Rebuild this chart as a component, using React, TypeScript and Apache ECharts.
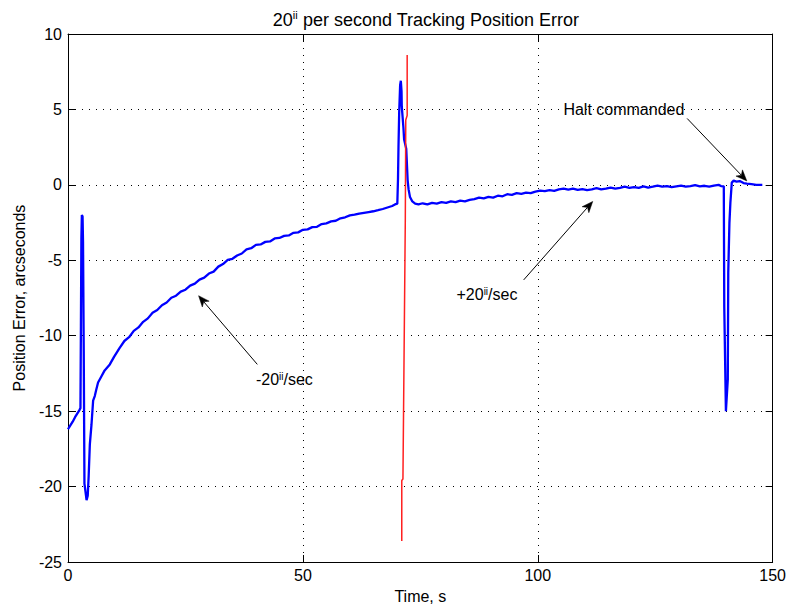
import React, { useEffect, useRef } from "react";
import * as echarts from "echarts";

const FONT = "'Liberation Sans', Arial, Helvetica, sans-serif";

// Blue trace: tracking position error (time s, arcseconds)
const blueTime = [
  0, 0.5, 1.0, 1.5, 2.0, 2.4, 2.65, 2.75, 2.85, 2.95, 3.1, 3.2, 3.35, 3.5, 3.75, 3.95, 4.2, 4.4, 4.65, 5.0,
  5.35, 5.7, 6.0, 6.4, 7.1, 7.8, 8.9, 9.8, 10.6,
  11, 12, 13, 14, 15, 16, 17, 18, 19, 20, 21, 22, 23, 24, 25, 26, 27, 28, 29, 30,
  31, 32, 33, 34, 35, 36, 37, 38, 39, 40, 41, 42, 43, 44, 45, 46, 47, 48, 49, 50,
  51, 52, 53, 54, 55, 56, 57, 58, 59, 60, 61, 62, 63, 64, 65, 66, 67, 68, 69, 69.6, 70.1,
  70.25, 70.35, 70.5, 70.7, 70.85, 71.0, 71.05, 71.4, 71.55, 72.0, 72.3, 72.5, 72.8, 73.3, 73.9,
  74.6, 75.5, 76.5, 77.5, 78.5, 79.5, 80.5, 81.5, 82.5, 83.5, 84.5, 85.5, 86.5, 87.5, 88.5, 89.5,
  90.5, 91.5, 92.5, 93.5, 94.5, 95.5, 96.5, 97.5, 98.5, 99.5, 100.5, 101.5, 102.5, 103.5, 104.5,
  105.5, 106.5, 107.5, 108.5, 109.5, 110.5, 111.5, 112.5, 113.5, 114.5, 115.5, 116.5, 117.5, 118.5,
  119.5, 120.5, 121.5, 122.5, 123.5, 124.5, 125.5, 126.5, 127.5, 128.5, 129.5, 130.5, 131.5, 132.5,
  133.5, 134.5, 135.5, 136.5, 137.5, 138.5, 139.0, 139.6,
  139.7, 139.85, 140.05, 140.2, 140.45, 140.55, 140.8, 141.0, 141.3, 141.7, 142.3, 143.0, 143.8, 144.5,
  145.5, 146.5, 147.8,
];
const blueError = [
  -16.2, -15.95, -15.7, -15.4, -15.15, -14.95, -14.8, -9.3, -3.5, -2.0, -2.1, -3.8, -11.0, -19.8, -20.4, -20.9, -20.6, -19.3, -17.2, -15.9,
  -14.3, -14.0, -13.6, -13.1, -12.7, -12.3, -11.9, -11.4, -11.0,
  -10.8, -10.35, -10.1, -9.68, -9.45, -9.08, -8.85, -8.48, -8.3, -7.98, -7.8, -7.48, -7.35, -7.08, -6.95, -6.68, -6.55, -6.28, -6.15, -5.88,
  -5.75, -5.42, -5.25, -4.98, -4.9, -4.68, -4.55, -4.28, -4.2, -3.98, -3.95, -3.78, -3.75, -3.55, -3.52, -3.38, -3.35, -3.18, -3.15, -2.98,
  -2.95, -2.8, -2.78, -2.6, -2.55, -2.42, -2.38, -2.22, -2.15, -2.02, -1.98, -1.9, -1.85, -1.8, -1.75, -1.68, -1.6, -1.5, -1.4, -1.3, -1.25,
  0.4, 2.5, 4.8, 6.6, 6.9, 6.2, 5.2, 3.8, 3.0, 2.4, 0.3, -0.3, -0.8, -1.1, -1.25,
  -1.3, -1.22, -1.3, -1.2, -1.25, -1.15, -1.2, -1.1, -1.15, -1.05, -1.1, -1.0, -0.95, -0.85, -0.9, -0.8,
  -0.85, -0.72, -0.76, -0.62, -0.66, -0.55, -0.6, -0.52, -0.55, -0.45, -0.38, -0.42, -0.35, -0.4, -0.3,
  -0.25, -0.32, -0.25, -0.33, -0.28, -0.35, -0.3, -0.22, -0.3, -0.25, -0.18, -0.25, -0.2, -0.12,
  -0.2, -0.15, -0.2, -0.1, -0.18, -0.12, -0.05, -0.12, -0.08, -0.15, -0.1, -0.05, -0.12, -0.08,
  -0.02, -0.1, -0.06, -0.12, -0.05, 0.0, -0.08, -0.1,
  -8.1, -8.1, -15.0, -15.0, -12.9, -5.8, -2.5, -1.2, 0.15, 0.28, 0.22, 0.25, 0.12, 0.08,
  0.05, 0.0, 0.0,
];

// Red trace
const redTime = [72.2, 72.2, 71.9, 71.8, 71.3, 71.05, 71.05];
const redError = [8.6, 4.6, 4.3, -2.4, -19.5, -19.6, -23.6];

// Annotations (data coordinates)
const annotationTexts = ["Halt commanded", "+20{s|ii}/sec", "-20{s|ii}/sec"];
const annotationTextAt = [[131.2, 5.0], [82.7, -7.3], [40.0, -12.9]];
const annotationAlign = ["right", "left", "left"];
const arrowTail = [[131.8, 4.4], [97.0, -6.3], [40.3, -11.9]];
const arrowTip = [[144.5, 0.26], [111.7, -1.1], [27.8, -7.35]];

const xMin = 0, xMax = 150, xStep = 50;
const yMin = -25, yMax = 10, yStep = 5;

export default function App() {
  const ref = useRef<HTMLDivElement>(null);
  useEffect(() => {
    const chart = echarts.init(ref.current!, null, { renderer: "svg" });
    const blue = blueTime.map((t, i) => [t, blueError[i]]);
    const red = redTime.map((t, i) => [t, redError[i]]);
    const gridDots = { show: true, lineStyle: { color: "#000", width: 1, type: [1, 6] as any } };
    const axisLine = { show: true, onZero: false, lineStyle: { color: "#000", width: 1 } };
    const tick = { show: true, inside: true, length: 7, lineStyle: { color: "#000" } };
    const labelStyle = { color: "#000", fontSize: 16, fontFamily: FONT };
    chart.setOption({
      animation: false,
      backgroundColor: "#fff",
      textStyle: { fontFamily: FONT },
      title: {
        text: "20{sup|ii} per second Tracking Position Error",
        left: 421,
        top: 4,
        textAlign: "center",
        textStyle: {
          color: "#000",
          fontSize: 18,
          fontWeight: "normal",
          fontFamily: FONT,
          lineHeight: 21,
          rich: { sup: { fontSize: 11, fontFamily: FONT, color: "#000", verticalAlign: "top", lineHeight: 11 } },
        },
      },
      grid: { left: 68, right: 13, top: 34, bottom: 46, containLabel: false },
      xAxis: [
        {
          type: "value", position: "bottom", min: xMin, max: xMax, interval: xStep,
          axisLine, axisTick: tick, splitLine: gridDots,
          axisLabel: { ...labelStyle, margin: 5 },
          name: "Time, s", nameLocation: "middle", nameGap: 26,
          nameTextStyle: { ...labelStyle },
        },
        {
          type: "value", position: "top", min: xMin, max: xMax, interval: xStep,
          axisLine, axisTick: tick, splitLine: { show: false }, axisLabel: { show: false },
        },
      ],
      yAxis: [
        {
          type: "value", position: "left", min: yMin, max: yMax, interval: yStep,
          axisLine, axisTick: tick, splitLine: gridDots,
          axisLabel: { ...labelStyle, margin: 6 },
          name: "Position Error, arcseconds", nameLocation: "middle", nameGap: 37,
          nameTextStyle: { ...labelStyle },
        },
        {
          type: "value", position: "right", min: yMin, max: yMax, interval: yStep,
          axisLine, axisTick: tick, splitLine: { show: false }, axisLabel: { show: false },
        },
      ],
      series: [
        {
          type: "line", data: blue, showSymbol: false, symbol: "none",
          lineStyle: { color: "#0000ff", width: 2.3 }, xAxisIndex: 0, yAxisIndex: 0, z: 3,
        },
        {
          type: "line", data: red, showSymbol: false, symbol: "none",
          lineStyle: { color: "#ff2020", width: 1.5 }, xAxisIndex: 0, yAxisIndex: 0, z: 4,
        },
      ],
    });

    const px = (p: number[]) => chart.convertToPixel({ seriesIndex: 0 }, p) as number[];
    const graphics: any[] = [];
    annotationTexts.forEach((txt, i) => {
      const [tx, ty] = px(annotationTextAt[i]);
      graphics.push({
        type: "text", x: tx, y: ty, z: 100,
        style: {
          text: txt, fontSize: 16, fontFamily: FONT, fill: "#000",
          align: annotationAlign[i], verticalAlign: "middle",
          rich: { s: { fontSize: 10, fontFamily: FONT, fill: "#000", verticalAlign: "top", lineHeight: 10 } },
        },
      });
      const [x1, y1] = px(arrowTail[i]);
      const [x2, y2] = px(arrowTip[i]);
      const L = Math.hypot(x2 - x1, y2 - y1);
      const ux = (x2 - x1) / L, uy = (y2 - y1) / L;
      const nx = -uy, ny = ux;
      const hl = 11, hw = 4.5;
      const notch = [x2 - ux * hl * 0.72, y2 - uy * hl * 0.72];
      graphics.push({
        type: "line", z: 100,
        shape: { x1, y1, x2: notch[0], y2: notch[1] },
        style: { stroke: "#000", lineWidth: 1 },
      });
      graphics.push({
        type: "polygon", z: 100,
        shape: {
          points: [
            [x2, y2],
            [x2 - ux * hl + nx * hw, y2 - uy * hl + ny * hw],
            notch,
            [x2 - ux * hl - nx * hw, y2 - uy * hl - ny * hw],
          ],
        },
        style: { fill: "#000", stroke: "#000", lineWidth: 0.5 },
      });
    });
    chart.setOption({ graphic: graphics });
    return () => chart.dispose();
  }, []);
  return <div ref={ref} style={{ position: "fixed", left: 0, top: 0, width: 789, height: 609 }} />;
}
